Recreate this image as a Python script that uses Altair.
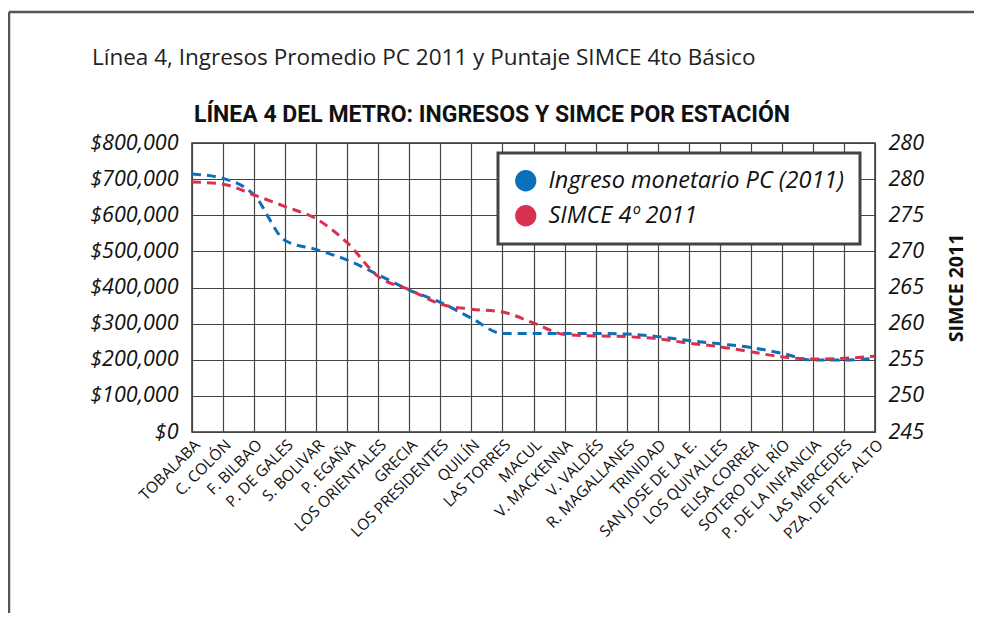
import altair as alt
import pandas as pd

stations = ["TOBALABA", "C. COLÓN", "F. BILBAO", "P. DE GALES", "S. BOLIVAR", "P. EGAÑA",
            "LOS ORIENTALES", "GRECIA", "LOS PRESIDENTES", "QUILÍN", "LAS TORRES", "MACUL",
            "V. MACKENNA", "V. VALDÉS", "R. MAGALLANES", "TRINIDAD", "SAN JOSE DE LA E.",
            "LOS QUIYALLES", "ELISA CORREA", "SOTERO DEL RÍO", "P. DE LA INFANCIA",
            "LAS MERCEDES", "PZA. DE PTE. ALTO"]
ingreso = [714000, 702000, 656000, 530000, 505000, 476000, 435000, 393000, 359000, 315000,
           273000, 273000, 273000, 273000, 271000, 264000, 253000, 244000, 234000, 218000,
           199000, 199000, 204000]
simce = [279.6, 279.3, 277.8, 276.2, 274.5, 271.2, 266.5, 264.7, 262.7, 262.0, 261.6,
         260.1, 258.5, 258.3, 258.2, 257.9, 257.3, 256.8, 256.1, 255.4, 255.1, 255.2, 255.5]
series_names = ["Ingreso monetario PC (2011)", "SIMCE 4º 2011"]
series_colors = ["#0b70b9", "#d9304f"]
income_ticks = [0, 100000, 200000, 300000, 400000, 500000, 600000, 700000, 800000]
simce_ticks = [245, 250, 255, 260, 265, 270, 275, 280, 285]
title_text = ["Línea 4, Ingresos Promedio PC 2011 y Puntaje SIMCE 4to Básico"]
heading_text = ["LÍNEA 4 DEL METRO: INGRESOS Y SIMCE POR ESTACIÓN"]
right_axis_title = "SIMCE 2011"

FONT = "Open Sans"

inc_df = pd.DataFrame({"estacion": stations, "valor": ingreso, "serie": series_names[0]})
sim_df = pd.DataFrame({"estacion": stations, "valor": simce, "serie": series_names[1]})
legend_df = pd.DataFrame({"serie": series_names})

color_scale = alt.Scale(domain=series_names, range=series_colors)

x_enc = alt.X("estacion:N", sort=stations,
              scale=alt.Scale(type="point", padding=0),
              axis=alt.Axis(title=None, labelAngle=-45, grid=True, ticks=False, domain=False,
                            labelFont=FONT, labelFontSize=15.5, labelColor="#111",
                            labelPadding=5, labelLimit=250))

line_kw = dict(strokeWidth=3, strokeDash=[9, 6], interpolate="monotone")

inc_line = alt.Chart(inc_df).mark_line(**line_kw).encode(
    x=x_enc,
    y=alt.Y("valor:Q", scale=alt.Scale(domain=[0, 800000], nice=False, zero=False),
            axis=alt.Axis(orient="left", values=income_ticks, format="$,.0f", grid=True,
                          ticks=False, domain=False, title=None, labelFont=FONT,
                          labelFontSize=21.5, labelFontStyle="italic", labelColor="#111",
                          labelPadding=14)),
    color=alt.Color("serie:N", scale=color_scale, legend=None),
)

sim_line = alt.Chart(sim_df).mark_line(**line_kw).encode(
    x=x_enc,
    y=alt.Y("valor:Q", scale=alt.Scale(domain=[245, 285], nice=False, zero=False),
            axis=alt.Axis(orient="right", values=simce_ticks, grid=False, ticks=False,
                          domain=False, title=right_axis_title,
                          labelExpr="datum.value >= 285 ? '280' : datum.label",
                          labelFont=FONT, labelFontSize=21.5, labelFontStyle="italic",
                          labelColor="#111", labelPadding=13, titleAngle=270,
                          titleFont=FONT, titleFontSize=19.5, titleFontWeight="bold",
                          titleColor="#111", titlePadding=43)),
    color=alt.Color("serie:N", scale=color_scale, legend=None),
)

legend_layer = alt.Chart(legend_df).mark_circle(opacity=0, size=10).encode(
    color=alt.Color("serie:N", scale=color_scale,
                    legend=alt.Legend(title=None, orient="none", legendX=306, legendY=10,
                                      symbolType="circle", symbolSize=452,
                                      symbolStrokeWidth=0, symbolOpacity=1,
                                      labelFont=FONT, labelFontSize=23.5,
                                      labelFontStyle="italic", labelColor="#111",
                                      fillColor="white", strokeColor="#444", padding=16,
                                      rowPadding=10, labelOffset=11, labelLimit=400)),
)

frame_df = pd.DataFrame({"k": [0]})
left_rule = alt.Chart(frame_df).mark_rule(color="#555", strokeWidth=2.5).encode(
    x=alt.value(-183), y=alt.value(-131), y2=alt.value(470))
top_rule = alt.Chart(frame_df).mark_rule(color="#555", strokeWidth=2.5).encode(
    x=alt.value(-183), x2=alt.value(782), y=alt.value(-131))

title_mark = alt.Chart(pd.DataFrame({"t": title_text})).mark_text(
    align="left", baseline="middle", font=FONT, fontSize=22.5, color="#222").encode(
    text="t:N", x=alt.value(-100), y=alt.value(-85))
heading_mark = alt.Chart(pd.DataFrame({"t": heading_text})).mark_text(
    align="center", baseline="middle", font="Roboto", fontSize=23, fontWeight="bold",
    color="#111").encode(text="t:N", x=alt.value(300), y=alt.value(-28))

chart = alt.layer(legend_layer, inc_line, sim_line, left_rule, top_rule, title_mark,
                  heading_mark).resolve_scale(
    y="independent"
).resolve_legend(
    color="independent"
).properties(
    width=683, height=289,
    autosize=alt.AutoSizeParams(type="none"),
    padding={"left": 184, "top": 135, "right": 99, "bottom": 181},
    background="white",
).configure_view(
    stroke="#333", strokeWidth=1.5
).configure_axis(
    gridColor="#444", gridWidth=1.2, gridOpacity=1
).configure_legend(
    strokeWidth=3
)

chart.save("out.html", embed_options={"renderer": "svg", "actions": False})
